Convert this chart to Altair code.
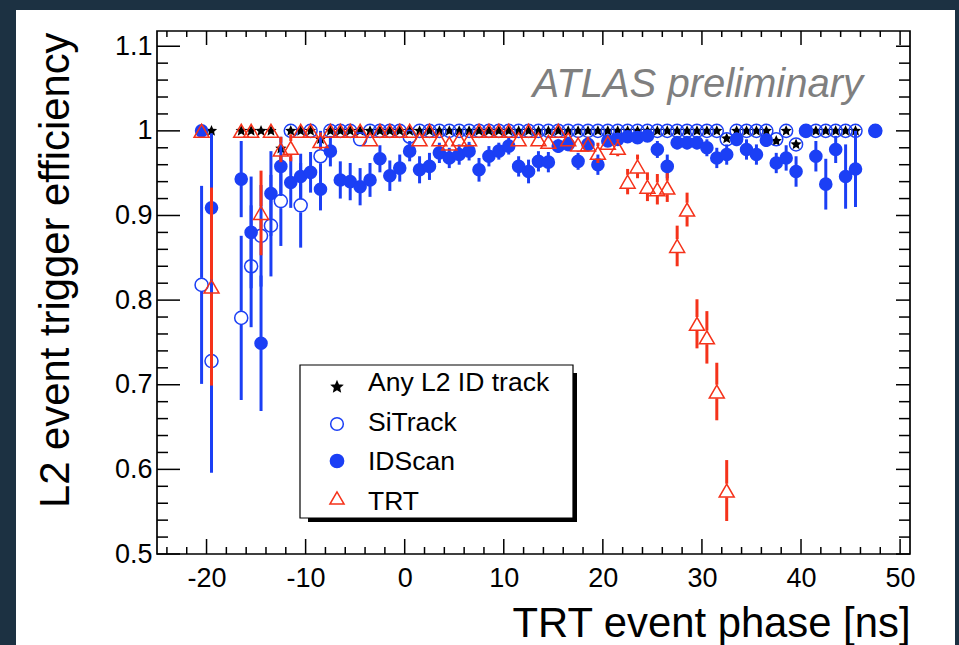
import altair as alt
import pandas as pd

# ---------------- data ----------------
phase = [-20.5, -19.5, -16.5, -15.5, -14.5, -13.5, -12.5, -11.5, -10.5, -9.5,
         -8.5, -7.5, -6.5, -5.5, -4.5, -3.5, -2.5, -1.5, -0.5, 0.5,
         1.5, 2.5, 3.5, 4.5, 5.5, 6.5, 7.5, 8.5, 9.5, 10.5,
         11.5, 12.5, 13.5, 14.5, 15.5, 16.5, 17.5, 18.5, 19.5, 20.5,
         21.5, 22.5, 23.5, 24.5, 25.5, 26.5, 27.5, 28.5, 29.5, 30.5,
         31.5, 32.5, 33.5, 34.5, 35.5, 36.5, 37.5, 38.5, 39.5, 40.5,
         41.5, 42.5, 43.5, 44.5, 45.5, 47.5]

any_l2 = [1.0, 1.0, 1.0, 1.0, 1.0, 1.0, 0.979, 1.0, 1.0, 1.0,
          0.990, 1.0, 1.0, 1.0, 1.0, 1.0, 1.0, 1.0, 1.0, 1.0,
          1.0, 1.0, 1.0, 1.0, 1.0, 1.0, 1.0, 1.0, 1.0, 1.0,
          1.0, 1.0, 1.0, 1.0, 1.0, 1.0, 1.0, 1.0, 1.0, 1.0,
          1.0, 1.0, 1.0, 1.0, 1.0, 1.0, 1.0, 1.0, 1.0, 1.0,
          1.0, 0.991, 1.0, 1.0, 1.0, 1.0, 0.988, 1.0, 0.984, 1.0,
          1.0, 1.0, 1.0, 1.0, 1.0, 1.0]

sitrack = [0.818, 0.728, 0.779, 0.840, 0.876, 0.888, 0.917, 1.0, 0.912, 1.0,
           0.970, 1.0, 1.0, 1.0, 0.990, 1.0, 1.0, 1.0, 1.0, 0.993,
           1.0, 1.0, 1.0, 1.0, 1.0, 1.0, 1.0, 1.0, 1.0, 1.0,
           1.0, 1.0, 1.0, 1.0, 1.0, 1.0, 1.0, 1.0, 1.0, 1.0,
           1.0, 1.0, 1.0, 1.0, 1.0, 1.0, 1.0, 1.0, 1.0, 1.0,
           1.0, 0.990, 1.0, 1.0, 1.0, 1.0, 0.990, 1.0, 0.984, 1.0,
           1.0, 1.0, 1.0, 1.0, 1.0, 1.0]
sitrack_err = [0.117, 0.132, 0.097, 0.072, 0.06, 0.06, 0.053, 0.0, 0.05, 0.0,
               0.03, 0.0, 0.0, 0.0, 0.0, 0.0, 0.0, 0.0, 0.0, 0.0,
               0.0, 0.0, 0.0, 0.0, 0.0, 0.0, 0.0, 0.0, 0.0, 0.0,
               0.0, 0.0, 0.0, 0.0, 0.0, 0.0, 0.0, 0.0, 0.0, 0.0,
               0.0, 0.0, 0.0, 0.0, 0.0, 0.0, 0.0, 0.0, 0.0, 0.0,
               0.0, 0.006, 0.0, 0.0, 0.0, 0.0, 0.006, 0.0, 0.008, 0.0,
               0.0, 0.0, 0.0, 0.0, 0.0, 0.0]

idscan = [1.0, 0.909, 0.943, 0.880, 0.749, 0.926, 0.958, 0.939, 0.946, 0.951,
          0.931, 0.976, 0.942, 0.940, 0.934, 0.942, 0.967, 0.947, 0.956, 0.976,
          0.954, 0.958, 0.974, 0.968, 0.972, 0.976, 0.954, 0.970, 0.976, 0.982,
          0.958, 0.952, 0.964, 0.963, 0.982, 0.984, 0.964, 0.984, 0.960, 0.988,
          0.990, 0.993, 0.992, 0.994, 0.978, 0.958, 0.986, 0.986, 0.986, 0.980,
          0.968, 0.972, 0.990, 0.978, 0.972, 0.989, 0.962, 0.968, 0.952, 1.0,
          0.970, 0.937, 0.978, 0.946, 0.955, 1.0]
idscan_err = [0.0, 0.088, 0.045, 0.066, 0.08, 0.05, 0.035, 0.03, 0.027, 0.024,
              0.025, 0.018, 0.022, 0.022, 0.022, 0.02, 0.016, 0.018, 0.016, 0.012,
              0.016, 0.016, 0.012, 0.012, 0.012, 0.011, 0.014, 0.012, 0.010, 0.010,
              0.012, 0.014, 0.012, 0.012, 0.008, 0.008, 0.010, 0.008, 0.012, 0.006,
              0.006, 0.005, 0.005, 0.005, 0.010, 0.014, 0.008, 0.008, 0.008, 0.010,
              0.012, 0.012, 0.008, 0.012, 0.012, 0.008, 0.012, 0.015, 0.018, 0.0,
              0.018, 0.030, 0.016, 0.038, 0.045, 0.0]

trt = [1.0, 0.816, 1.0, 1.0, 0.903, 1.0, 0.978, 0.980, 1.0, 1.0,
       0.988, 1.0, 1.0, 1.0, 1.0, 0.990, 1.0, 1.0, 1.0, 1.0,
       0.990, 1.0, 0.990, 0.985, 0.990, 0.990, 1.0, 1.0, 1.0, 1.0,
       0.990, 1.0, 0.990, 0.987, 1.0, 0.990, 0.984, 0.984, 0.974, 0.986,
       0.980, 0.940, 0.958, 0.934, 0.931, 0.933, 0.864, 0.907, 0.772, 0.756,
       0.692, 0.575, None, None, None, None, None, None, None, None,
       None, None, None, None, None, None]
trt_err = [0.0, 0.117, 0.0, 0.0, 0.05, 0.0, 0.015, 0.016, 0.0, 0.0,
           0.01, 0.0, 0.0, 0.0, 0.0, 0.008, 0.0, 0.0, 0.0, 0.0,
           0.008, 0.0, 0.008, 0.008, 0.008, 0.008, 0.0, 0.0, 0.0, 0.0,
           0.008, 0.0, 0.008, 0.008, 0.0, 0.008, 0.009, 0.009, 0.012, 0.008,
           0.010, 0.015, 0.014, 0.017, 0.018, 0.017, 0.024, 0.020, 0.029, 0.031,
           0.034, 0.036, None, None, None, None, None, None, None, None,
           None, None, None, None, None, None]

x_major = [-20, -10, 0, 10, 20, 30, 40, 50]
x_minor = [-24, -22, -18, -16, -14, -12, -8, -6, -4, -2, 2, 4, 6, 8,
           12, 14, 16, 18, 22, 24, 26, 28, 32, 34, 36, 38, 42, 44, 46, 48]
y_major = [0.5, 0.6, 0.7, 0.8, 0.9, 1.0, 1.1]
y_minor = [0.52, 0.54, 0.56, 0.58, 0.62, 0.64, 0.66, 0.68, 0.72, 0.74, 0.76, 0.78,
           0.82, 0.84, 0.86, 0.88, 0.92, 0.94, 0.96, 0.98, 1.02, 1.04, 1.06, 1.08]

legend_labels = ["Any L2 ID track", "SiTrack", "IDScan", "TRT"]

# ---------------- style ----------------
FONT = "Liberation Sans, Arial, Helvetica, sans-serif"
BLUE = "#1b3ff5"
RED = "#f5321a"
BG = "#1c3142"
W, H = 753, 523
YMIN, YMAX = 0.5, 1.118
PX = H / (YMAX - YMIN)
STAR = ("M0,-1L0.27,-0.37L0.951,-0.309L0.44,0.143L0.588,0.809L0,0.46"
        "L-0.588,0.809L-0.44,0.143L-0.951,-0.309L-0.27,-0.37Z")

xs = alt.Scale(domain=[-25, 51], nice=False, zero=False)
ys = alt.Scale(domain=[YMIN, YMAX], nice=False, zero=False)

xaxis = alt.Axis(values=x_major, labelExpr="'' + datum.value", ticks=False, tickSize=0,
                 domain=False, grid=False,
                 labelFontSize=27, labelFont=FONT, labelColor="black", labelPadding=11,
                 labelFlush=False, labelOverlap=False,
                 title="TRT event phase [ns]", titleFontSize=41.8, titleFont=FONT,
                 titleFontWeight="normal", titleColor="black", titleAlign="right",
                 titleAnchor="end", titleX=W, titleY=82, titleBaseline="alphabetic",
                 zindex=1)
yaxis = alt.Axis(values=y_major, format="~g", ticks=False, tickSize=0, domain=False,
                 grid=False, labelFontSize=27, labelFont=FONT, labelColor="black",
                 labelPadding=5, labelOverlap=False, labelFlush=False,
                 title="L2 event trigger efficiency", titleFontSize=41.8, titleFont=FONT,
                 titleFontWeight="normal", titleColor="black", titleAngle=270,
                 titleAlign="right", titleAnchor="end", titleBaseline="alphabetic",
                 titleX=-89, titleY=1, zindex=1)

X = lambda f: alt.X(f, scale=xs, axis=xaxis)
Y = lambda f: alt.Y(f, scale=ys, axis=yaxis)


def points_df(vals):
    return pd.DataFrame({"x": phase, "y": vals}).dropna()


def bars_df(vals, errs, gap_px):
    g = gap_px / PX
    rows = []
    for x, v, e in zip(phase, vals, errs):
        if v is None or not e:
            continue
        lo, hi = v - e, min(1.0, v + e)
        if gap_px:
            if lo < v - g:
                rows.append({"x": x, "a": lo, "b": v - g})
            if v + g < hi:
                rows.append({"x": x, "a": v + g, "b": hi})
        else:
            rows.append({"x": x, "a": lo, "b": hi})
    return pd.DataFrame(rows, columns=["x", "a", "b"])


one = alt.Data(values=[{"k": 1}])

panel = alt.Chart(one).mark_rect(fill="white").encode(
    x=alt.value(-141), x2=alt.value(798), y=alt.value(-21), y2=alt.value(614))

frame = alt.Chart(one).mark_rect(fill="transparent", stroke="black", strokeWidth=1.7).encode(
    x=alt.value(0), x2=alt.value(W), y=alt.value(0), y2=alt.value(H))


def xticks(vals, length_bottom, length_top):
    d = pd.DataFrame({"x": vals})
    b = alt.Chart(d).mark_rule(color="black", strokeWidth=1.5).encode(
        x=X("x:Q"), y=alt.value(H), y2=alt.value(H - length_bottom))
    t = alt.Chart(d).mark_rule(color="black", strokeWidth=1.5).encode(
        x=X("x:Q"), y=alt.value(0), y2=alt.value(length_top))
    return [b, t]


def yticks(vals, length_left, length_right):
    d = pd.DataFrame({"y": vals})
    l = alt.Chart(d).mark_rule(color="black", strokeWidth=1.5).encode(
        y=Y("y:Q"), x=alt.value(0), x2=alt.value(length_left))
    r = alt.Chart(d).mark_rule(color="black", strokeWidth=1.5).encode(
        y=Y("y:Q"), x=alt.value(W), x2=alt.value(W - length_right))
    return [l, r]


tick_layers = (xticks(x_major, 15, 14) + xticks(x_minor, 7, 6)
               + yticks(y_major, 23, 14) + yticks(y_minor, 11, 11))


def bar_layer(df, color):
    return alt.Chart(df).mark_rule(color=color, strokeWidth=3).encode(
        x=X("x:Q"), y=Y("a:Q"), y2="b:Q")


def pt_layer(df, **mk):
    return alt.Chart(df).mark_point(**mk).encode(x=X("x:Q"), y=Y("y:Q"))


data_layers = [
    pt_layer(points_df(any_l2), shape=STAR, filled=True, color="black", size=140, opacity=1),
    bar_layer(bars_df(sitrack, sitrack_err, 7), BLUE),
    pt_layer(points_df(sitrack), shape="circle", filled=False, color=BLUE, size=170,
             strokeWidth=1.5, opacity=1),
    bar_layer(bars_df(idscan, idscan_err, 0), BLUE),
    pt_layer(points_df(idscan), shape="circle", filled=True, color=BLUE, size=185, opacity=1),
    bar_layer(bars_df(trt, trt_err, 6.8), RED),
    pt_layer(points_df(trt), shape="triangle-up", filled=False, color=RED, size=225,
             strokeWidth=1.5, opacity=1),
]

# ---------------- legend (drawn as marks) ----------------
leg = pd.DataFrame({
    "label": legend_labels,
    "shape": [STAR, "circle", "circle", "triangle-up"],
    "stroke": ["black", BLUE, BLUE, RED],
    "fill": ["black", "transparent", BLUE, "transparent"],
    "sz": [110, 160, 175, 200],
})
leg["sy"] = [356 + 37 * i for i in range(len(leg))]
leg["ty"] = [360 + 39.7 * i for i in range(len(leg))]

shadow = alt.Chart(one).mark_rect(fill="black").encode(
    x=alt.value(151), x2=alt.value(420), y=alt.value(342), y2=alt.value(491))
legbox = alt.Chart(one).mark_rect(fill="white", stroke="black", strokeWidth=1.2).encode(
    x=alt.value(143), x2=alt.value(416), y=alt.value(334), y2=alt.value(487))
legsym = alt.Chart(leg).mark_point(strokeWidth=1.5, opacity=1).encode(
    x=alt.value(180),
    y=alt.Y("sy:Q", scale=None),
    shape=alt.Shape("shape:N", scale=None),
    stroke=alt.Stroke("stroke:N", scale=None),
    fill=alt.Fill("fill:N", scale=None),
    size=alt.Size("sz:Q", scale=None))
legtxt = alt.Chart(leg).mark_text(align="left", baseline="alphabetic", fontSize=26.5,
                                  font=FONT, color="black").encode(
    x=alt.value(211), y=alt.Y("ty:Q", scale=None), text="label:N")

atlas = alt.Chart(one).mark_text(text="ATLAS preliminary", align="right",
                                 baseline="alphabetic", fontSize=40, font=FONT,
                                 fontStyle="italic", color="#7f7f7f").encode(
    x=alt.value(706), y=alt.value(66))

chart = alt.layer(
    panel, *tick_layers, frame, *data_layers, shadow, legbox, legsym, legtxt, atlas
).properties(
    width=W, height=H,
    background=BG,
    padding={"left": 157, "top": 31, "right": 49, "bottom": 91},
    autosize=alt.AutoSizeParams(type="none"),
).configure_view(stroke=None)

chart.save("out.html", embed_options={"renderer": "svg", "actions": False})
